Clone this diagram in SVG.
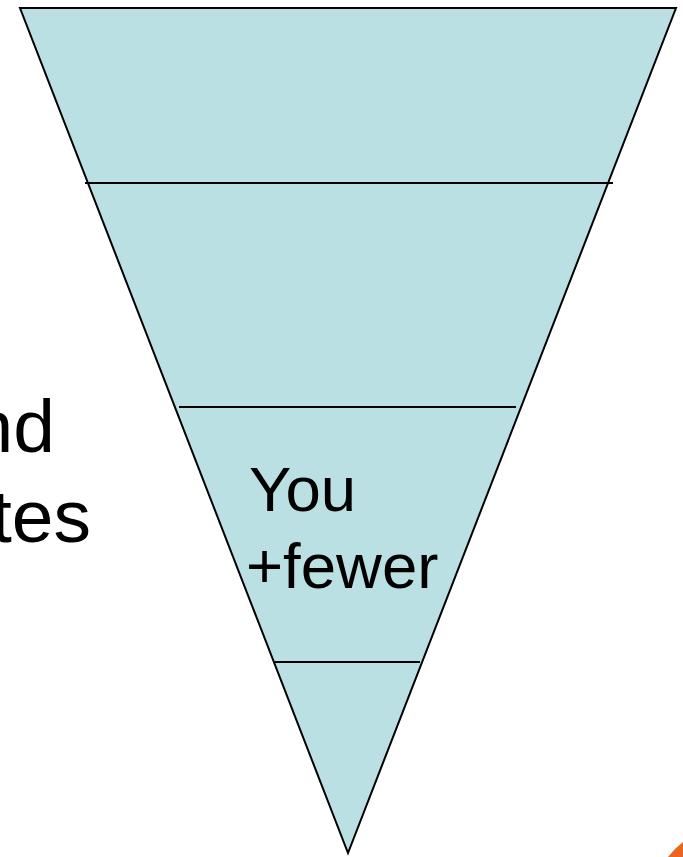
<svg xmlns="http://www.w3.org/2000/svg" width="683" height="857" viewBox="0 0 683 857">
<style>
.edge{fill:#BBE0E3;stroke:#000;stroke-width:2;stroke-linejoin:miter}
.div{stroke:#000;stroke-width:2.2}
.t{font-family:"Liberation Sans",Arial,sans-serif;fill:#000}
</style>
<rect width="683" height="857" fill="#fff"/>
<g id="funnel">
<polygon class="edge" points="20,8 676,8 348,853"/>
</g>
<g id="dividers">
<line class="div" x1="85" y1="183" x2="613" y2="183"/>
<line class="div" x1="179" y1="407" x2="516" y2="407"/>
<line class="div" x1="275" y1="662" x2="420" y2="662"/>
</g>
<g id="left-text">
<text class="t" x="55" y="452" font-size="75" text-anchor="end">nd</text>
<text class="t" x="91" y="542" font-size="75" text-anchor="end">tes</text>
</g>
<g id="inner-text">
<text class="t" x="249" y="511" font-size="63.5">You</text>
<text class="t" x="246" y="588" font-size="63.5">+fewer</text>
</g>
<g id="corner">
<path d="M668,857 Q675,848 683,842 L683,857 Z" fill="#E8661E"/>
</g>
</svg>
